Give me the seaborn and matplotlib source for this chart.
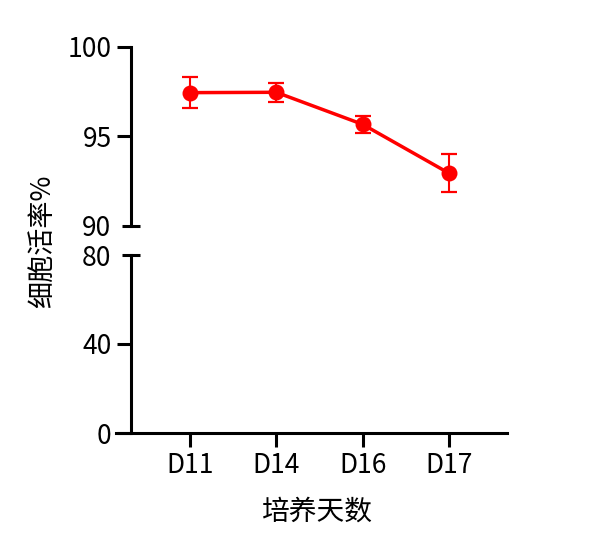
import numpy as np
import pandas as pd
import matplotlib
matplotlib.use("Agg")
import matplotlib.pyplot as plt
import seaborn as sns

# ---- data ----
categories = ["D11", "D14", "D16", "D17"]
viability = [97.45, 97.47, 95.68, 92.95]
viability_err = [0.85, 0.53, 0.48, 1.07]
top_ticks = [95, 100]
bottom_ticks = [0, 40]
top_break = 90
bottom_break = 80
x_label = "培养天数"
y_label = "细胞活率%"

sns.set_theme(style="white")
plt.rcParams['font.family'] = ['Noto Sans CJK SC', 'DejaVu Sans']

W, H = 595, 556
fig = plt.figure(figsize=(W / 100, H / 100), dpi=100)


def rect(x0, y0, x1, y1):
    return [x0 / W, 1 - y1 / H, (x1 - x0) / W, (y1 - y0) / H]


ax_top = fig.add_axes(rect(116, 47, 507, 226))
ax_bot = fig.add_axes(rect(116, 255, 507, 433))

red = "#FF0000"
df = pd.DataFrame({"x": np.arange(len(categories)), "y": viability, "err": viability_err})

lw = 2.2
fs = 19
for ax in (ax_top, ax_bot):
    sns.lineplot(data=df, x="x", y="y", ax=ax, color=red, linewidth=2.5,
                 marker="o", markersize=11.5, markeredgewidth=0, zorder=3)
    ax.errorbar(df["x"], df["y"], yerr=df["err"], fmt="none", ecolor=red,
                elinewidth=1.5, capsize=5.5, capthick=1.6, zorder=2)
    ax.set_xlim(-0.855, 3.672)
    for s in ("top", "right"):
        ax.spines[s].set_visible(False)
    ax.spines["left"].set_position(("axes", 14.5 / 391))
    ax.spines["left"].set_linewidth(lw)
    ax.spines["left"].set_color("black")
    ax.spines["bottom"].set_linewidth(lw)
    ax.spines["bottom"].set_color("black")
    ax.set_xlabel("")
    ax.set_ylabel("")
    ax.tick_params(axis="y", which="major", left=True, direction="out", length=10, width=lw,
                   pad=3.5, labelsize=fs, colors="black")
    ax.tick_params(axis="y", which="minor", left=True, direction="inout", length=13.5, width=lw,
                   pad=7.2, labelsize=fs, colors="black")
    ax.set_facecolor("none")

ax_top.set_ylim(top_break, 100)
ax_top.set_yticks(top_ticks)
ax_top.set_yticklabels([str(t) for t in top_ticks])
ax_top.set_yticks([top_break], minor=True)
ax_top.set_yticklabels([str(top_break)], minor=True)
ax_top.spines["bottom"].set_visible(False)
ax_top.set_xticks([])

ax_bot.set_ylim(0, bottom_break)
ax_bot.set_yticks(bottom_ticks)
ax_bot.set_yticklabels([str(t) for t in bottom_ticks])
ax_bot.set_yticks([bottom_break], minor=True)
ax_bot.set_yticklabels([str(bottom_break)], minor=True)
ax_bot.set_xticks(df["x"])
ax_bot.set_xticklabels(categories)
ax_bot.tick_params(axis="x", which="major", bottom=True, direction="out", length=10, width=lw, pad=4,
                   labelsize=fs, colors="black")
ax_bot.tick_params(axis="x", which="minor", bottom=False)
ax_bot.set_xlabel(x_label, fontsize=20, color="black")
ax_bot.xaxis.set_label_coords((317 - 116) / 391, -(512 - 433) / 178)
ax_bot.xaxis.label.set_va("center")

fig.text(43 / W, 1 - 241 / H, y_label, rotation=90, ha="center", va="center",
         fontsize=19.5, color="black")

fig.savefig("out.png", dpi=100, facecolor="white")
